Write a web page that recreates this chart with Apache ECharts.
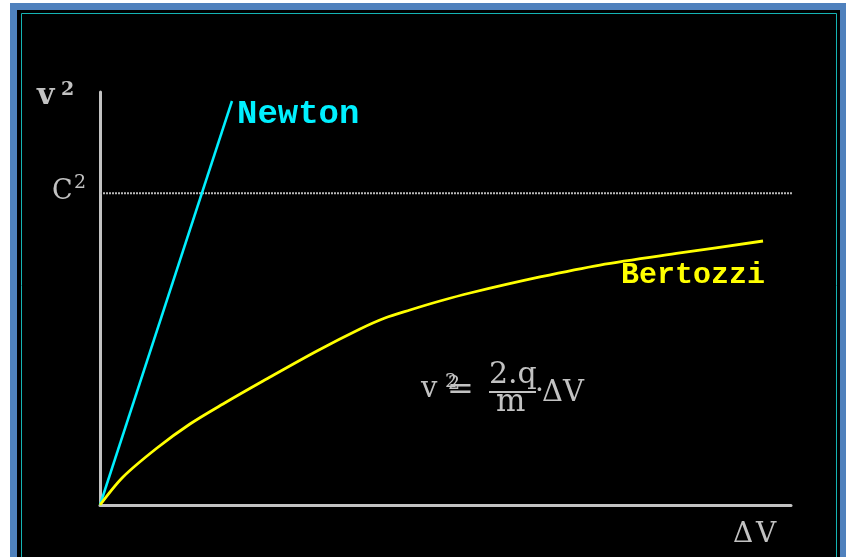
<!DOCTYPE html>
<html>
<head>
<meta charset="utf-8">
<style>
  html, body { margin: 0; padding: 0; background: #ffffff; }
  #chart { width: 846px; height: 557px; }
</style>
<script src="https://cdn.jsdelivr.net/npm/echarts@6/dist/echarts.min.js"></script>
</head>
<body>
<div id="chart"></div>
<script>
// Accelerating voltage ΔV (arbitrary units, 0..100) vs. squared speed v² (0..100)
const newtonX = [0, 19.10];
const newtonY = [0, 97.82];

const bertozziX = [0, 3.33, 8.25, 13.02, 17.80, 23.59, 31.40, 37.63, 41.24, 44.86, 49.20, 53.55, 63.68, 72.36, 83.94, 95.95];
const bertozziY = [0, 6.78, 13.80, 19.61, 24.46, 30.02, 37.29, 42.62, 45.28, 47.22, 49.39, 51.33, 55.21, 58.11, 61.02, 63.92];

// Speed-of-light limit c²
const cSquared = 75.5;
const limitX = [0, 100.6];

const pairs = (xs, ys) => xs.map((x, i) => [x, ys[i]]);

const GRAY = '#c2c2c2';
const SERIF = '"DejaVu Serif", "Liberation Serif", serif';
const MONO = '"Liberation Mono", "DejaVu Sans Mono", monospace';

function txt(text, x, y, font, fill, z) {
  return {
    type: 'text', z: z || 50,
    style: { text: text, x: x, y: y, font: font, fill: fill, align: 'left', verticalAlign: 'middle' }
  };
}

const chart = echarts.init(document.getElementById('chart'), null, { renderer: 'canvas' });

chart.setOption({
  backgroundColor: '#ffffff',
  animation: false,
  grid: { left: 100, top: 92, width: 691, height: 413, containLabel: false },
  xAxis: {
    type: 'value', min: 0, max: 100,
    axisLine: { show: true, lineStyle: { color: GRAY, width: 3 } },
    axisTick: { show: false }, axisLabel: { show: false }, splitLine: { show: false }
  },
  yAxis: {
    type: 'value', min: 0, max: 100,
    axisLine: { show: true, lineStyle: { color: GRAY, width: 3 } },
    axisTick: { show: false }, axisLabel: { show: false }, splitLine: { show: false }
  },
  series: [
    {
      name: 'c²', type: 'line', data: pairs(limitX, [cSquared, cSquared]),
      symbol: 'none', clip: false, z: 1,
      lineStyle: { color: '#b8b8b8', width: 2, type: [2, 1] }
    },
    {
      name: 'Newton', type: 'line', data: pairs(newtonX, newtonY),
      symbol: 'none', z: 3,
      lineStyle: { color: '#00f0ff', width: 2.5 }
    },
    {
      name: 'Bertozzi', type: 'line', data: pairs(bertozziX, bertozziY),
      symbol: 'none', smooth: 0.3, z: 3,
      lineStyle: { color: '#ffff00', width: 2.8 }
    }
  ],
  graphic: [
    // slide frame
    { type: 'rect', z: -30, shape: { x: 10, y: 3, width: 840, height: 560 }, style: { fill: '#4f81bd' } },
    { type: 'rect', z: -20, shape: { x: 17, y: 10, width: 823, height: 560 }, style: { fill: '#000000' } },
    { type: 'rect', z: -10, shape: { x: 21.5, y: 13.5, width: 815, height: 560 }, style: { fill: 'none', stroke: '#14b4b4', lineWidth: 1 } },

    // axis captions
    txt('v', 37, 96, 'bold 30px ' + SERIF, GRAY),
    txt('2', 61, 90, 'bold 19px ' + SERIF, GRAY),
    txt('C', 52, 192, '27px ' + SERIF, GRAY),
    txt('2', 74, 183, '19px ' + SERIF, GRAY),
    txt('Δ', 733, 535, '28px ' + SERIF, GRAY),
    txt('V', 756, 535, '28px ' + SERIF, GRAY),

    // series labels
    txt('Newton', 237, 114, 'bold 34px ' + MONO, '#00f0ff'),
    txt('Bertozzi', 621, 275, 'bold 30px ' + MONO, '#ffff00'),

    // classical relation v² = (2q/m)·ΔV
    txt('v', 421, 389, '29px ' + SERIF, GRAY),
    txt('2', 445, 382, '19px ' + SERIF, GRAY),
    txt('2', 448, 384, '19px ' + SERIF, GRAY),
    txt('=', 447, 391, '32px ' + SERIF, GRAY),
    txt('2.q', 489, 375, '30px ' + SERIF, GRAY),
    { type: 'line', z: 50, shape: { x1: 489, y1: 392, x2: 536, y2: 392 }, style: { stroke: GRAY, lineWidth: 2 } },
    txt('m', 496, 403, '31px ' + SERIF, GRAY),
    txt('·', 535, 392, '28px ' + SERIF, GRAY),
    txt('ΔV', 542, 393, '29px ' + SERIF, GRAY)
  ]
});
</script>
</body>
</html>
